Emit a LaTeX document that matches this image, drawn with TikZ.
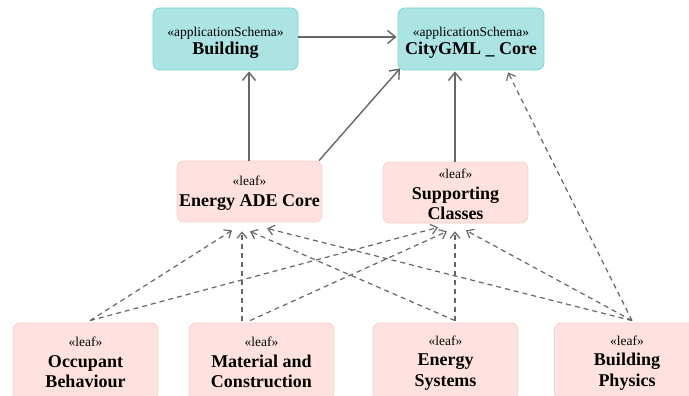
\documentclass[tikz,border=0pt]{standalone}
\usepackage{fontspec}
\setmainfont{Liberation Serif}
\usetikzlibrary{arrows.meta}
\definecolor{tealfill}{RGB}{172,227,227}
\definecolor{tealdraw}{RGB}{120,216,216}
\definecolor{pinkfill}{RGB}{255,226,224}
\definecolor{pinkdraw}{RGB}{250,205,200}
\definecolor{linegray}{RGB}{102,102,102}
\newcommand{\stereo}[1]{{\normalfont\fontsize{13.5}{16}\selectfont «#1»}}
\tikzset{
  pkg/.style={rectangle, rounded corners=7pt, line width=0.8pt, align=center,
    minimum width=145pt, inner sep=0pt,
    font=\fontsize{18}{20.5}\selectfont\bfseries},
  schema/.style={pkg, fill=tealfill, draw=tealdraw, minimum height=62pt},
  leafmid/.style={pkg, fill=pinkfill, draw=pinkdraw, minimum height=61pt},
  leafbot/.style={pkg, fill=pinkfill, draw=pinkdraw, minimum height=76pt},
  solidarr/.style={draw=linegray, line width=1.4pt, -{Straight Barb[length=8pt,width=13pt,line width=1.4pt]}},
  deparr/.style={draw=linegray, line width=1.2pt, dash pattern=on 5pt off 4pt,
    -{Straight Barb[length=6pt,width=10pt,line width=1.2pt]}}
}
\begin{document}
\begin{tikzpicture}[x=1pt,y=-1pt]
\useasboundingbox (0,0) rectangle (689,396);
\clip (0,0) rectangle (689,396);
\node[schema] (bld) at (225.5,39) {\rule{0pt}{17pt}\stereo{applicationSchema}\\[-2pt]Building};
\node[schema, minimum width=146pt] (city) at (471,39) {\rule{0pt}{17pt}\stereo{applicationSchema}\\[-2pt]CityGML \_ Core};
\node[leafmid] (eac) at (249.5,191.5) {\rule{0pt}{13pt}\stereo{leaf}\\[0pt]Energy ADE Core};
\node[leafmid] (sc) at (455.5,192.5) {\rule{0pt}{14pt}\stereo{leaf}\\[0pt]Supporting\\Classes};
\node[leafbot] (occ) at (85.5,361) {\rule{0pt}{13pt}\stereo{leaf}\\[0pt]Occupant\\Behaviour};
\node[leafbot] (mat) at (261.5,361) {\rule{0pt}{13pt}\stereo{leaf}\\[0pt]Material and\\Construction};
\node[leafbot] (ens) at (445.5,361) {\rule{0pt}{13pt}\stereo{leaf}\\[0pt]Energy\\Systems};
\node[leafbot] (bph) at (627,361) {\rule{0pt}{13pt}\stereo{leaf}\\[0pt]Building\\Physics};
% solid dependencies
\draw[solidarr] ([yshift=2pt]bld.east) -- ([xshift=-1pt,yshift=2pt]city.west);
\draw[solidarr] ([xshift=-0.5pt]eac.north) -- ([xshift=23.5pt,yshift=-1pt]bld.south);
\draw[solidarr] ([xshift=69.5pt]eac.north) -- ([xshift=-71pt,yshift=2pt]city.south);
\draw[solidarr] ([xshift=-0.5pt]sc.north) -- ([xshift=-16pt,yshift=-1pt]city.south);
% dashed dependencies
\draw[deparr] ([xshift=4.5pt,yshift=2pt]occ.north) -- ([xshift=-17.5pt,yshift=-8pt]eac.south);
\draw[deparr] ([xshift=4.5pt,yshift=2pt]occ.north) -- ([xshift=-17.5pt,yshift=-4pt]sc.south);
\draw[deparr] ([xshift=-19.5pt,yshift=2pt]mat.north) -- ([xshift=-7.5pt,yshift=-9pt]eac.south);
\draw[deparr] ([xshift=-11.5pt,yshift=2pt]mat.north) -- ([xshift=-8.5pt,yshift=-8pt]sc.south);
\draw[deparr] ([xshift=9.5pt,yshift=2pt]ens.north) -- ([xshift=0.5pt,yshift=-9pt]eac.south);
\draw[deparr] ([xshift=9.5pt,yshift=2pt]ens.north) -- ([xshift=-0.5pt,yshift=-8pt]sc.south);
\draw[deparr] ([xshift=5pt,yshift=2pt]bph.north) -- ([xshift=17.5pt,yshift=-6pt]eac.south);
\draw[deparr] ([xshift=5pt,yshift=2pt]bph.north) -- ([xshift=10.5pt,yshift=-7pt]sc.south);
\draw[deparr] ([xshift=5pt,yshift=2pt]bph.north) -- ([xshift=37pt,yshift=-2pt]city.south);
\end{tikzpicture}
\end{document}
